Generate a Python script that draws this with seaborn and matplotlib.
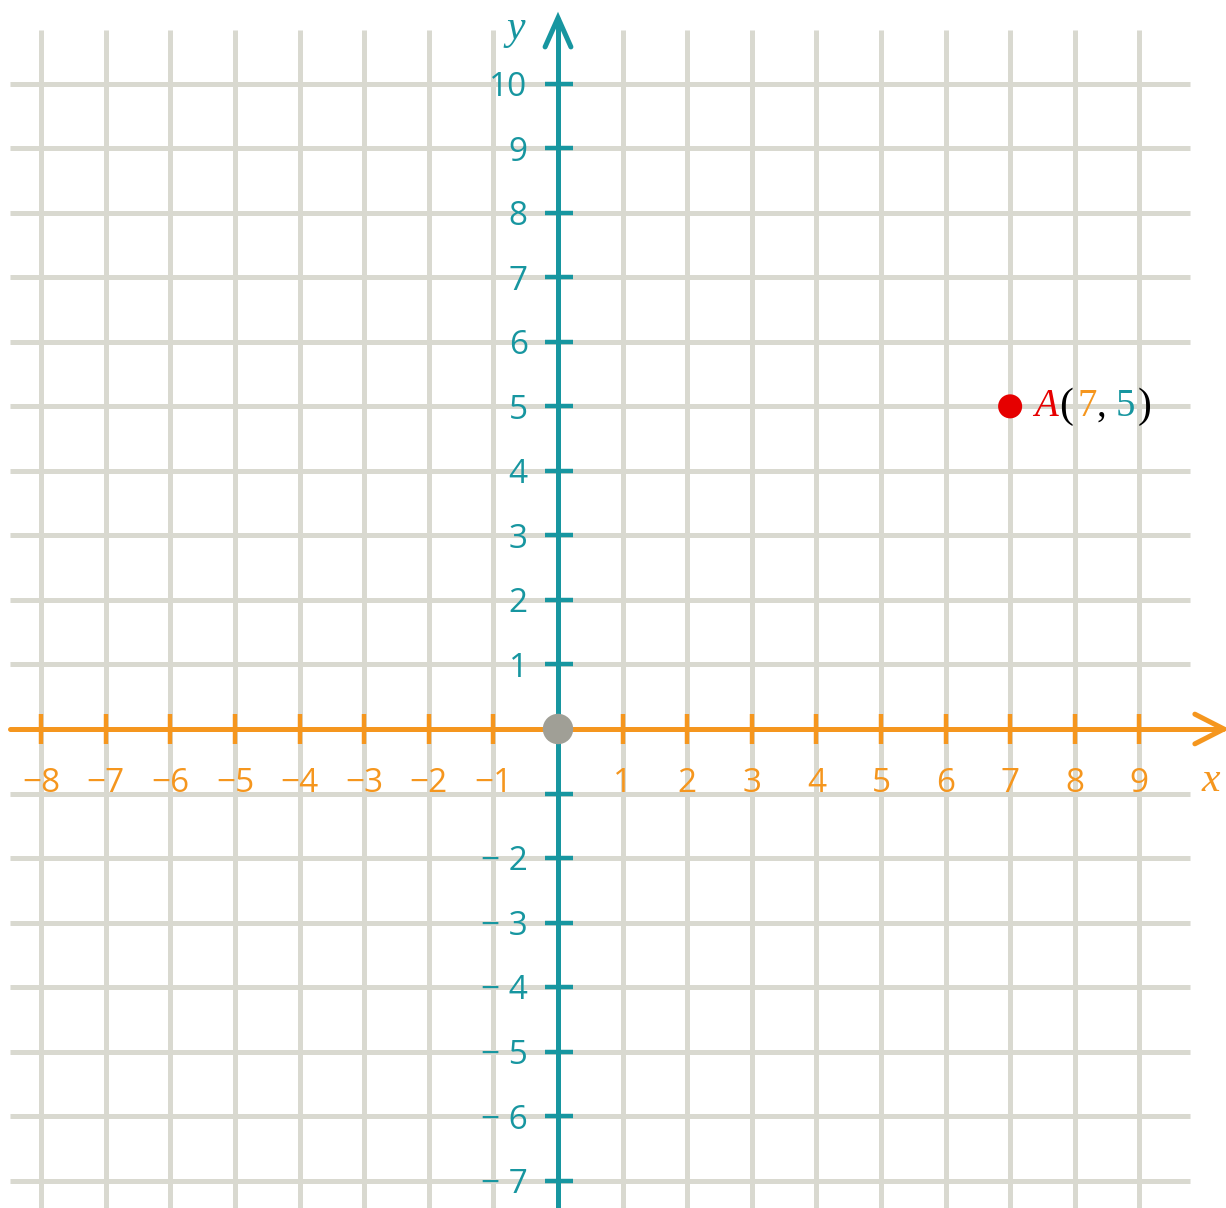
import matplotlib
matplotlib.use("Agg")
import matplotlib.pyplot as plt
import seaborn as sns
import pandas as pd

# 데이터
x_ticks = list(range(-8, 10))
y_ticks = list(range(-7, 11))
x_labels = ["−8", "−7", "−6", "−5", "−4", "−3", "−2", "−1", "1", "2", "3", "4", "5", "6", "7", "8", "9"]
x_label_pos = [-8, -7, -6, -5, -4, -3, -2, -1, 1, 2, 3, 4, 5, 6, 7, 8, 9]
y_labels = ["− 7", "− 6", "− 5", "− 4", "− 3", "− 2", "1", "2", "3", "4", "5", "6", "7", "8", "9", "10"]
y_label_pos = [-7, -6, -5, -4, -3, -2, 1, 2, 3, 4, 5, 6, 7, 8, 9, 10]
point_name = "A"
point_x = [7]
point_y = [5]
origin = pd.DataFrame({"x": [0], "y": [0]})

# 색
ORANGE = "#f5961e"
TEAL = "#1796a0"
GRID = "#d9d9d0"
DOT = "#a09f96"
RED = "#e60000"

sns.set_theme(style="white")
plt.rcParams['font.family'] = ['Open Sans', 'DejaVu Sans']

fig = plt.figure(figsize=(12.26, 12.08), dpi=100)
ax = fig.add_axes([0, 0, 1, 1])
ux, uy = 64.59, 64.53
ax.set_xlim(-558 / ux, 668 / ux)
ax.set_ylim(-479 / uy, 729 / uy)
ax.axis('off')

# 격자
ax.vlines(x_ticks, -7.6, 10.83, color=GRID, lw=3.6, zorder=1)
ax.hlines(y_ticks, -8.48, 9.78, color=GRID, lw=3.6, zorder=1)

# x 축
ax.plot([-8.48, 10.3], [0, 0], color=ORANGE, lw=3.6, zorder=3, solid_capstyle='round')
ax.plot([9.86, 10.31, 9.86], [0.23, 0, -0.23], color=ORANGE, lw=3.6, zorder=3,
        solid_capstyle='round', solid_joinstyle='miter')
ax.vlines(x_ticks, -0.23, 0.23, color=ORANGE, lw=3.2, zorder=3)

# y 축
ax.plot([0, 0], [-7.6, 11.0], color=TEAL, lw=3.6, zorder=4, solid_capstyle='round')
ax.plot([-0.2, 0, 0.2], [10.57, 11.02, 10.57], color=TEAL, lw=3.6, zorder=4,
        solid_capstyle='round', solid_joinstyle='miter')
ax.hlines([t for t in y_ticks if t != 0], -0.2, 0.23, color=TEAL, lw=3.2, zorder=4)

# 눈금 라벨
for pos, lab in zip(x_label_pos, x_labels):
    ax.text(pos, -0.85, lab, color=ORANGE, fontsize=24, ha='center', va='center', zorder=5)
for pos, lab in zip(y_label_pos, y_labels):
    ax.text(-0.47, pos - 0.06, lab, color=TEAL, fontsize=24, ha='right', va='center', zorder=5)

# 축 이름
ax.text(-0.65, 10.85, "y", color=TEAL, fontsize=30, family=['Liberation Serif'], style='italic',
        ha='center', va='center', zorder=5)
ax.text(10.1, -0.8, "x", color=ORANGE, fontsize=30, family=['Liberation Serif'], style='italic',
        ha='center', va='center', zorder=5)

# 원점, 점 A
sns.scatterplot(data=origin, x="x", y="y", s=480, color=DOT, edgecolor='none', zorder=6, ax=ax)
sns.scatterplot(x=point_x, y=point_y, s=300, color=RED, edgecolor='none', zorder=6, ax=ax)

# A(7, 5) 라벨
parts = [(point_name, RED, 'italic', 0.557, 28), ("(", "black", 'normal', 0.86, 30),
         (str(point_x[0]), ORANGE, 'normal', 1.19, 28), (",", "black", 'normal', 1.42, 28),
         (str(point_y[0]), TEAL, 'normal', 1.79, 28), (")", "black", 'normal', 2.08, 30)]
for txt, col, sty, dx, fs in parts:
    ax.text(point_x[0] + dx, point_y[0], txt, color=col, style=sty, fontsize=fs,
            family=['Liberation Serif'], ha='center', va='center', zorder=6)

fig.savefig("out.png", dpi=100)
